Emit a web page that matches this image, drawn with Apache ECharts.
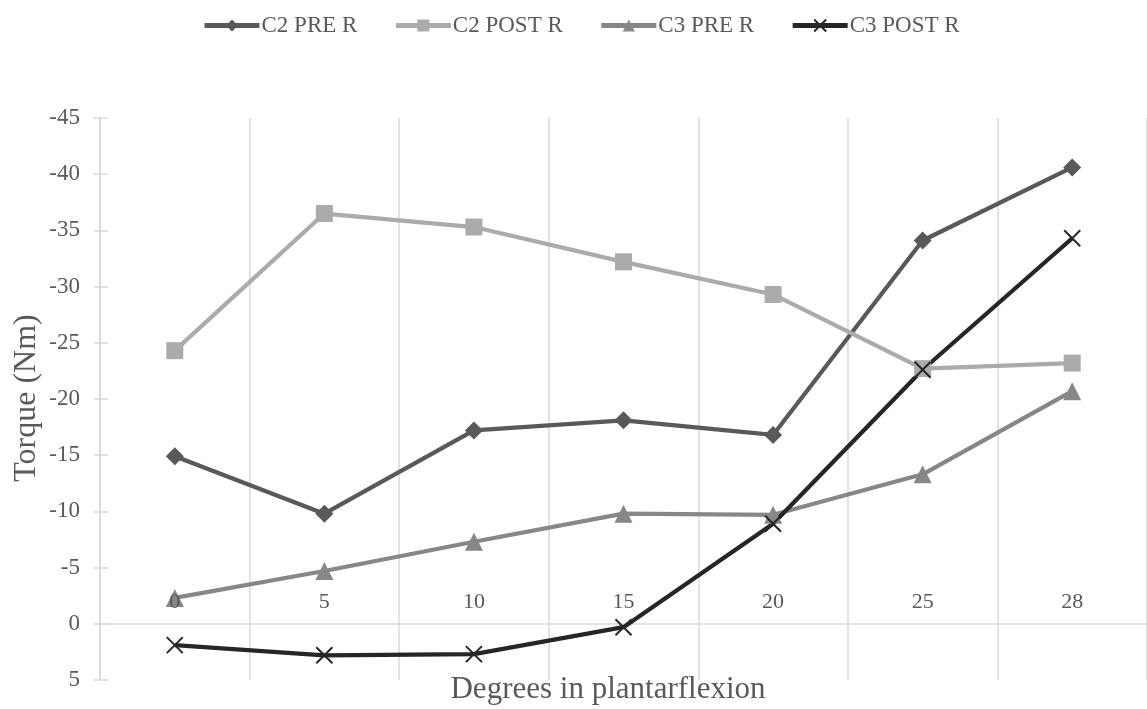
<!DOCTYPE html>
<html>
<head>
<meta charset="utf-8">
<title>Torque vs plantarflexion</title>
<script src="https://cdn.jsdelivr.net/npm/echarts@6/dist/echarts.min.js"></script>
<style>
  html, body { margin: 0; padding: 0; background: #ffffff; }
  #chart { width: 1147px; height: 709px; }
</style>
</head>
<body>
<div id="chart"></div>
<script>
// Degrees in plantarflexion (category axis)
const degrees = ['0', '5', '10', '15', '20', '25', '28'];

// Torque readings (Nm) per condition
const c2Pre  = [-14.9, -9.8, -17.2, -18.1, -16.8, -34.1, -40.6];
const c2Post = [-24.3, -36.5, -35.3, -32.2, -29.3, -22.7, -23.2];
const c3Pre  = [-2.3, -4.7, -7.3, -9.8, -9.7, -13.3, -20.7];
const c3Post = [1.9, 2.8, 2.7, 0.3, -8.9, -22.6, -34.3];

const seriesNames = ['C2 PRE R', 'C2 POST R', 'C3 PRE R', 'C3 POST R'];

// Torque axis range (drawn inverted: most negative at the top)
const yMin = -45, yMax = 5, yStep = 5;

const FONT = '"Liberation Serif", "Times New Roman", serif';
const TEXT = '#595959';
const GRID = '#d9d9d9';

const chart = echarts.init(document.getElementById('chart'), null, { renderer: 'canvas' });

function lineSeries(name, data, color, symbol, size, extraItem) {
  return {
    name: name,
    type: 'line',
    xAxisIndex: 0,
    yAxisIndex: 0,
    data: data,
    symbol: symbol,
    symbolSize: size,
    showSymbol: true,
    lineStyle: { color: color, width: 4.25 },
    itemStyle: Object.assign({ color: color }, extraItem || {}),
    emphasis: { disabled: true },
    animation: false
  };
}

const option = {
  backgroundColor: '#ffffff',
  animation: false,
  legend: {
    top: 9,
    left: 197,
    itemWidth: 55,
    itemHeight: 15,
    itemGap: 36,
    lineStyle: { width: 5 },
    textStyle: { fontFamily: FONT, fontSize: 23, color: TEXT, padding: [0, 0, 0, -3] },
    data: seriesNames
  },
  grid: { left: 100, right: -3, top: 118, bottom: 29, containLabel: false },
  xAxis: [
    {
      // zero line and vertical category dividers, under the series
      type: 'category',
      data: degrees,
      boundaryGap: true,
      axisLine: { onZero: true, lineStyle: { color: GRID, width: 1.5 } },
      axisTick: { show: false },
      axisLabel: { show: false },
      splitLine: { show: true, lineStyle: { color: GRID, width: 1.5 } }
    },
    {
      // category labels just above the zero line, drawn over the series
      type: 'category',
      data: degrees,
      boundaryGap: true,
      position: 'bottom',
      z: 10,
      axisLine: { show: false },
      axisTick: { show: false },
      splitLine: { show: false },
      axisLabel: {
        inside: true,
        margin: 67,
        fontFamily: FONT,
        fontSize: 22,
        color: TEXT
      }
    }
  ],
  yAxis: [
    {
      type: 'value',
      inverse: true,
      min: yMin,
      max: yMax,
      interval: yStep,
      axisLine: { show: true, onZero: false, lineStyle: { color: GRID, width: 1.5 } },
      axisTick: { show: true, length: 6, lineStyle: { color: GRID, width: 1.5 } },
      axisLabel: { margin: 20, fontFamily: FONT, fontSize: 23, color: TEXT },
      splitLine: { show: false }
    },
    {
      // inner half of the crossing tick marks
      type: 'value',
      position: 'left',
      inverse: true,
      min: yMin,
      max: yMax,
      interval: yStep,
      axisLine: { show: false },
      axisTick: { show: true, inside: true, length: 8, lineStyle: { color: GRID, width: 1.5 } },
      axisLabel: { show: false },
      splitLine: { show: false }
    }
  ],
  series: [
    lineSeries(seriesNames[0], c2Pre, '#595959', 'diamond', 18),
    lineSeries(seriesNames[1], c2Post, '#ababab', 'rect', 17),
    lineSeries(seriesNames[2], c3Pre, '#878787', 'triangle', 18),
    lineSeries(seriesNames[3], c3Post, '#262626', 'path://M0,0L10,10M10,0L0,10', 16,
      { borderColor: '#262626', borderWidth: 2 })
  ],
  graphic: [
    {
      type: 'text',
      x: 608,
      y: 690,
      style: {
        text: 'Degrees in plantarflexion',
        x: 0,
        y: 0,
        align: 'center',
        verticalAlign: 'middle',
        font: '31px ' + FONT,
        fill: TEXT
      }
    },
    {
      type: 'text',
      x: 27,
      y: 398,
      rotation: Math.PI / 2,
      style: {
        text: 'Torque (Nm)',
        x: 0,
        y: 0,
        align: 'center',
        verticalAlign: 'middle',
        font: '32px ' + FONT,
        fill: TEXT
      }
    }
  ]
};

chart.setOption(option);
</script>
</body>
</html>
